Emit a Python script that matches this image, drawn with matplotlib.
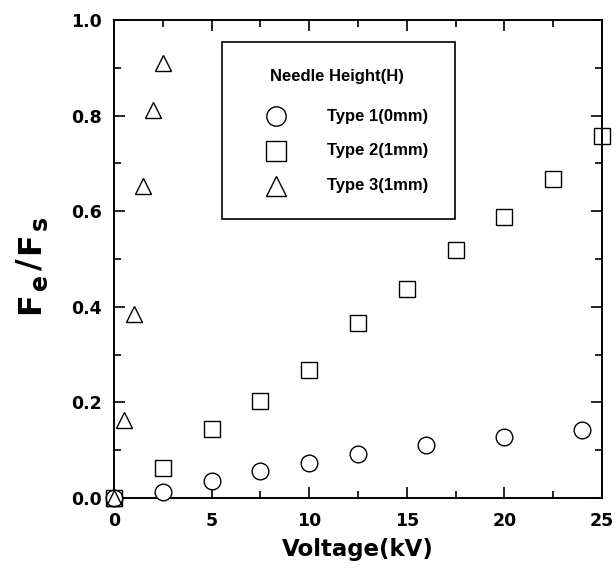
import matplotlib
matplotlib.use('Agg')
import matplotlib.pyplot as plt
from matplotlib.patches import Rectangle
from matplotlib.ticker import MultipleLocator

plt.rcParams['font.family'] = ['DejaVu Sans']
plt.rcParams['font.weight'] = 'bold'

# data
type1_x = [0, 2.5, 5, 7.5, 10, 12.5, 16, 20, 24]
type1_y = [0, 0.013, 0.036, 0.056, 0.074, 0.093, 0.110, 0.127, 0.142]
type2_x = [0, 2.5, 5, 7.5, 10, 12.5, 15, 17.5, 20, 22.5, 25]
type2_y = [0, 0.063, 0.144, 0.203, 0.267, 0.367, 0.437, 0.518, 0.588, 0.668, 0.757]
type3_x = [0, 0.5, 1.0, 1.5, 2.0, 2.5]
type3_y = [0, 0.163, 0.385, 0.652, 0.812, 0.910]

labels = ['Type 1(0mm)', 'Type 2(1mm)', 'Type 3(1mm)']
legend_title = 'Needle Height(H)'

W, H = 616, 579
fig = plt.figure(figsize=(W / 100, H / 100), dpi=100)
ax = fig.add_axes([114 / W, 1 - 498 / H, 488 / W, 478 / H])

ms = 12
ax.plot(type1_x, type1_y, 'o', ms=ms, mfc='white', mec='black', mew=1.0, clip_on=False, zorder=3)
ax.plot(type2_x, type2_y, 's', ms=ms, mfc='none', mec='black', mew=1.0, clip_on=False, zorder=4)
ax.plot(type3_x, type3_y, '^', ms=ms, mfc='none', mec='black', mew=1.0, clip_on=False, zorder=5)

ax.set_xlim(0, 25)
ax.set_ylim(0, 1.0)
ax.xaxis.set_major_locator(MultipleLocator(5))
ax.xaxis.set_minor_locator(MultipleLocator(2.5))
ax.yaxis.set_minor_locator(MultipleLocator(0.1))
ax.set_yticks([0, 0.2, 0.4, 0.6, 0.8, 1.0])
ax.set_yticklabels(['0.0', '0.2', '0.4', '0.6', '0.8', '1.0'])

ax.tick_params(which='both', direction='in', top=True, right=True, width=1.2)
ax.tick_params(which='major', length=8, labelsize=12.5)
ax.tick_params(axis='x', which='major', pad=10)
ax.tick_params(axis='y', which='major', pad=9)
ax.tick_params(which='minor', length=5)
for sp in ax.spines.values():
    sp.set_linewidth(1.4)

ax.set_xlabel('Voltage(kV)', fontsize=16.5, fontweight='bold', labelpad=6)

# y label: F_e / F_s, subscripts a bit smaller and lowered
ylab_parts = [('F', 39, 314, 23), ('e', 47, 290, 17), ('/', 39, 270, 23),
              ('F', 39, 254, 23), ('s', 47, 230, 17)]
for txt, px, py, fs in ylab_parts:
    fig.text(px / W, 1 - py / H, txt, rotation=90, rotation_mode='anchor',
             ha='left', va='baseline', fontsize=fs, fontweight='bold')

# legend box drawn by hand
lg_font = ['Liberation Sans', 'DejaVu Sans']
ax.add_patch(Rectangle((0.221, 0.584), 0.477, 0.370, transform=ax.transAxes,
                       fill=False, edgecolor='black', linewidth=1.2, zorder=6))
ax.text(0.320, 0.881, legend_title, transform=ax.transAxes, fontsize=12,
        family=lg_font, fontweight='bold', ha='left', va='center', zorder=7)
for mk, yy, lab in zip(['o', 's', '^'], [0.799, 0.726, 0.653], labels):
    ax.plot([0.331], [yy], mk, ms=14, mfc='none', mec='black', mew=1.0,
            transform=ax.transAxes, clip_on=False, zorder=7)
    ax.text(0.436, yy, lab, transform=ax.transAxes, fontsize=12,
            family=lg_font, fontweight='bold', ha='left', va='center', zorder=7)

fig.savefig('out.png', dpi=100)
